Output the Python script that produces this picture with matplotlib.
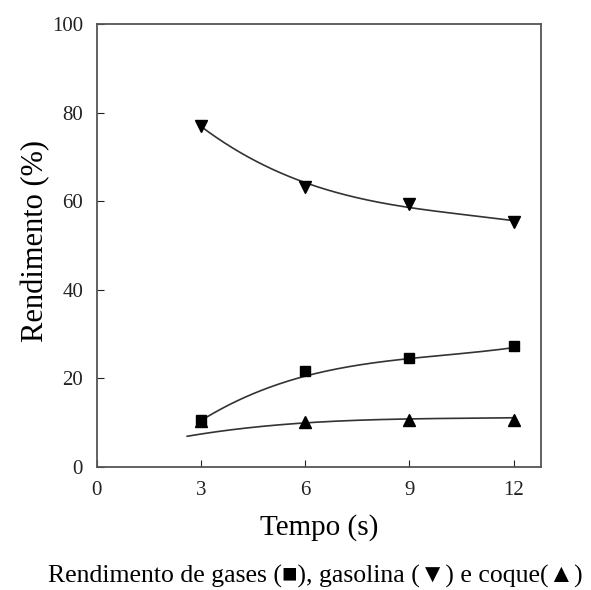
import numpy as np
import matplotlib.pyplot as plt

plt.rcParams['font.family'] = ['Liberation Serif', 'DejaVu Serif']

# dados medidos
tempo = [3, 6, 9, 12]
gases = [10.6, 21.6, 24.5, 27.3]
gasolina = [77.0, 63.2, 59.4, 55.2]
coque = [10.4, 10.2, 10.6, 10.6]

curva_x_gas = [3, 4.5, 6, 7.5, 9, 10.5, 12]
curva_gasolina = [76.8, 69.5, 64.0, 60.8, 58.6, 57.0, 55.6]
curva_x_gases = [2.9, 4.5, 6, 7.5, 9, 10.5, 12]
curva_gases = [10.0, 16.5, 20.6, 22.9, 24.4, 25.7, 26.9]
curva_x_coque = [2.6, 4, 6, 7.5, 9, 10.5, 12]
curva_coque = [6.9, 8.6, 9.9, 10.5, 10.9, 11.0, 11.1]

fig = plt.figure(figsize=(5.91, 5.90), dpi=100)
ax = fig.add_axes([0.164, 0.2085, 0.752, 0.751])

cor = '#333333'
for cx, cy in [(curva_x_gas, curva_gasolina), (curva_x_gases, curva_gases), (curva_x_coque, curva_coque)]:
    p = np.polyfit(cx, cy, 3)
    xs = np.linspace(cx[0], cx[-1], 200)
    ax.plot(xs, np.polyval(p, xs), color=cor, lw=1.2)

ax.plot(tempo, gases, 's', color='black', ms=7)
ax.plot(tempo, gasolina, 'v', color='black', ms=8)
ax.plot(tempo, coque, '^', color='black', ms=8)

ax.set_xlim(0, 12.8)
ax.set_ylim(0, 100)
ax.set_xticks([0, 3, 6, 9, 12])
ax.set_yticks([0, 20, 40, 60, 80, 100])
ax.tick_params(direction='in', length=5, labelsize=15, colors='#222222')
ax.tick_params(axis='y', pad=10)
ax.tick_params(axis='x', pad=10)
for s in ax.spines.values():
    s.set_color('#555555')
    s.set_linewidth(1.3)

ax.set_xlabel('Tempo (s)', fontsize=21, labelpad=10)
ax.set_ylabel('Rendimento (%)', fontsize=22)
ax.yaxis.set_label_coords(-0.105, 0.51)

fig.text(0.533, 0.012, 'Rendimento de gases (\u25a0), gasolina (\u25bc) e coque(\u25b2)',
         ha='center', fontsize=18.5)

fig.savefig('out.png', dpi=100)
